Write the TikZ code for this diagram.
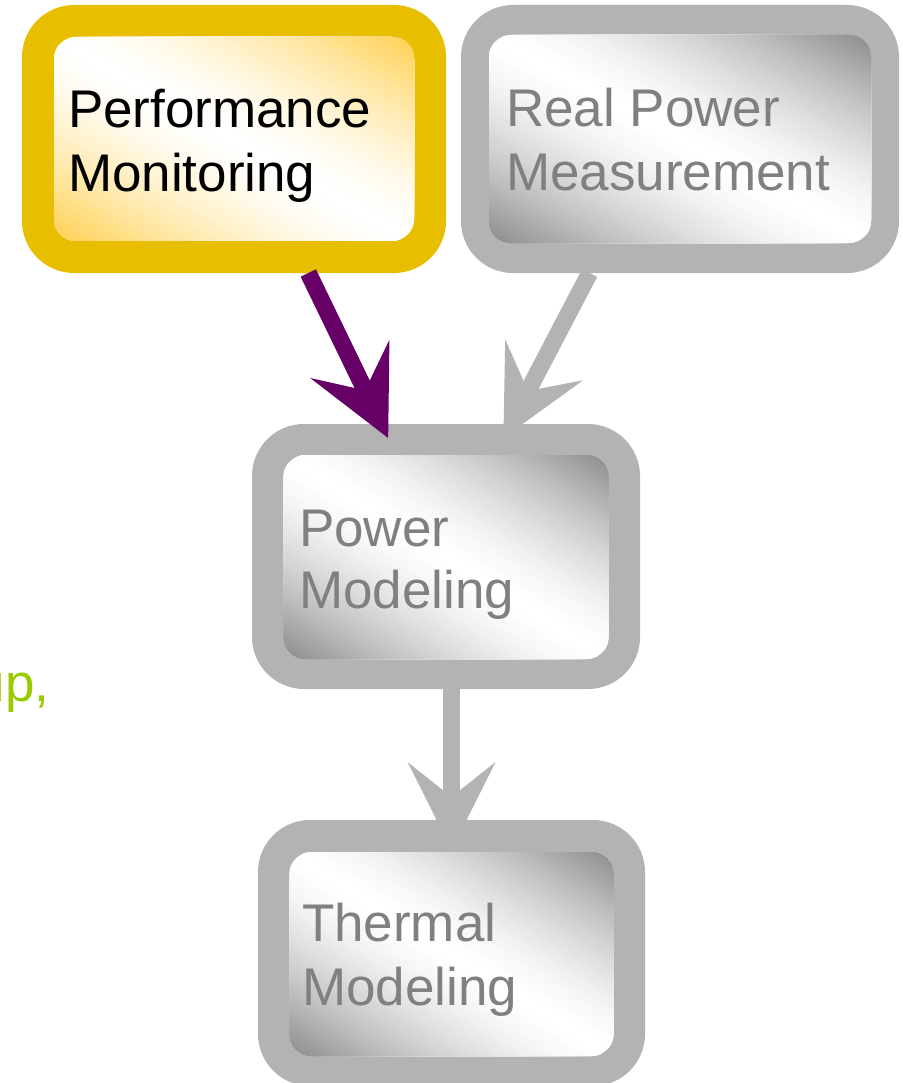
\documentclass[tikz,border=0pt]{standalone}
\usepackage{fontspec}
\setmainfont{Liberation Sans}
\usetikzlibrary{arrows.meta}

\definecolor{goldborder}{HTML}{E8BE00}
\definecolor{greyborder}{HTML}{B3B3B3}
\definecolor{goldfill}{HTML}{FFD04F}
\definecolor{greyfill}{HTML}{8A8A8A}
\definecolor{labelgrey}{HTML}{808080}
\definecolor{plum}{HTML}{660066}
\definecolor{lime}{HTML}{99CC00}

\tikzset{
  outerbox/.style={rounded corners=52pt, inner sep=0pt, outer sep=0pt},
  boxtext/.style={anchor=base west, align=left, inner sep=0pt, outer sep=0pt,
                  font=\fontsize{53}{64}\selectfont},
  flowarrow/.style={line width=17pt,
                    -{Stealth[length=88pt, width=88pt, inset=35pt, line width=0pt]}},
}

% Inner panel: colour in the lower-left and upper-right corners, fading to
% white along the diagonal from the upper-left to the lower-right corner.
% Nested bands are painted from the centre outwards, so no seams show.
% #1,#2 centre, #3 width, #4 height, #5 corner colour
\newcommand\gradpanel[5]{%
  \begin{scope}
    \clip[rounded corners=22pt] ({#1-#3/2},{#2-#4/2}) rectangle ({#1+#3/2},{#2+#4/2});
    \fill[white] ({#1-#3/2},{#2-#4/2}) rectangle ({#1+#3/2},{#2+#4/2});
    \foreach \k in {1,...,44}{
      \pgfmathsetmacro\ucut{\k/45}
      \pgfmathtruncatemacro\mixpct{100*((\k+0.5)/45)^1.5}
      \fill[#5!\mixpct!white]
        ({#1-2*#3},{#2}) -- ({#1},{#2+2*#4}) --
        ({#1+#3/2*(2-\ucut)},{#2+#4/2*(2+\ucut)}) --
        ({#1+#3/2*(-2-\ucut)},{#2+#4/2*(-2+\ucut)}) -- cycle
        ({#1+#3/2*(-2+\ucut)},{#2+#4/2*(-2-\ucut)}) --
        ({#1+#3/2*(2+\ucut)},{#2+#4/2*(2-\ucut)}) --
        ({#1+2*#3},{#2}) -- ({#1},{#2-2*#4}) -- cycle;
    }
  \end{scope}}

\begin{document}
\begin{tikzpicture}[x=1pt, y=-1pt]
\useasboundingbox (0,0) rectangle (902,1083);
\clip (0,0) rectangle (902,1083);

% trailing word at the left margin
\node[boxtext, text=lime] (cue) at (-24,701) {up,};

% Performance Monitoring
\node[outerbox, fill=goldborder, minimum width=424pt, minimum height=268pt] (pm) at (234,139) {};
\gradpanel{234}{139}{360}{204}{goldfill}
\node[boxtext, text=black] (pmtext) at (68,192) {Performance\\Monitoring};

% Real Power Measurement
\node[outerbox, fill=greyborder, minimum width=438pt, minimum height=268pt] (rpm) at (680,139) {};
\gradpanel{680}{139}{382}{208}{greyfill}
\node[boxtext, text=labelgrey] (rpmtext) at (506,191) {Real Power\\Measurement};

% Power Modeling
\node[outerbox, fill=greyborder, minimum width=388pt, minimum height=265pt] (pw) at (446,556.5) {};
\gradpanel{446}{557}{325}{204}{greyfill}
\node[boxtext, text=labelgrey, font=\fontsize{53}{62}\selectfont] (pwtext) at (299,608) {Power\\Modeling};

% Thermal Modeling
\node[outerbox, fill=greyborder, minimum width=387pt, minimum height=266pt] (tm) at (451.5,953) {};
\gradpanel{451.5}{954}{324}{204}{greyfill}
\node[boxtext, text=labelgrey] (tmtext) at (302,1005) {Thermal\\Modeling};

% connectors
\draw[flowarrow, draw=plum, shorten >=-15.6pt] (pm.-61) -- (pw.116);
\draw[flowarrow, draw=greyborder, shorten >=-15.6pt] (rpm.-124) -- (pw.64);
\draw[flowarrow, draw=greyborder, shorten >=-30pt] (pw.south -| tm.north) -- (tm.north);
\end{tikzpicture}
\end{document}
